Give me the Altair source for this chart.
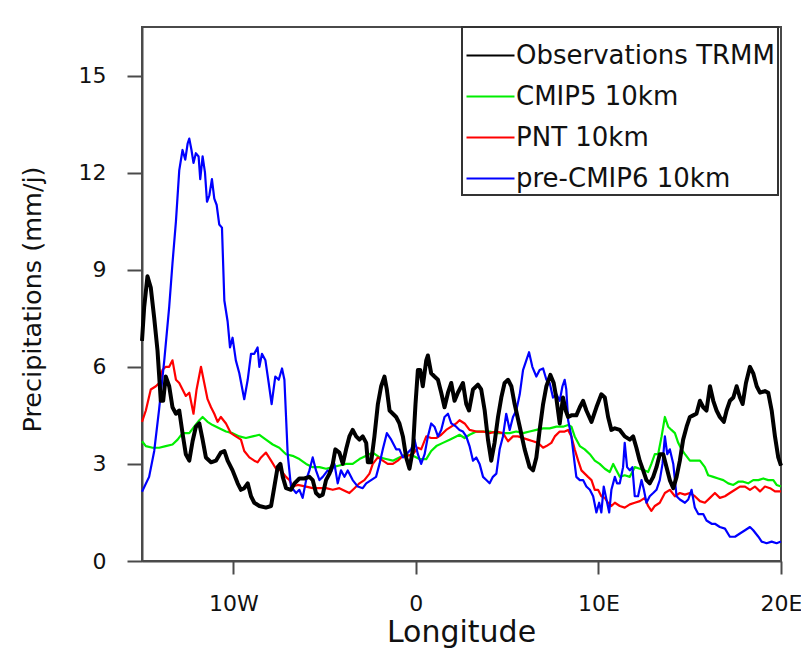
import altair as alt
import pandas as pd

series_names = ["Observations TRMM", "CMIP5 10km", "PNT 10km", "pre-CMIP6 10km"]
series_colors = ["#000000", "#00ee00", "#ff0000", "#0000ff"]

obs_lon = [-15.0, -14.88, -14.70, -14.52, -14.33, -14.15, -13.97, -13.84, -13.70, -13.51, -13.33, -13.14, -12.96,
           -12.78, -12.60, -12.41, -12.23, -12.05, -11.86, -11.68, -11.50, -11.22, -10.95, -10.68, -10.49, -10.31,
           -10.04, -9.76, -9.58, -9.40, -9.21, -9.03, -8.85, -8.57, -8.21, -7.93, -7.75, -7.57, -7.42, -7.29, -7.11,
           -6.84, -6.65,
           -6.38, -6.11, -5.83, -5.65, -5.47, -5.28, -5.10, -4.92, -4.73, -4.55, -4.41, -4.19, -4.00, -3.82, -3.64,
           -3.46, -3.27, -3.09, -2.91, -2.72, -2.63, -2.45, -2.27, -2.08, -1.90, -1.72, -1.59, -1.44, -1.26, -1.08,
           -0.90, -0.71, -0.53, -0.35, -0.16, -0.02, 0.11, 0.24, 0.38, 0.57, 0.66, 0.84, 1.02, 1.21, 1.39, 1.57,
           1.76, 1.94, 2.12, 2.30,
           2.58, 2.76, 2.91, 3.13, 3.40, 3.58, 3.77, 3.95, 4.13, 4.31, 4.50, 4.68, 4.86, 5.05, 5.23, 5.41, 5.69,
           5.96, 6.23, 6.42, 6.60, 6.78, 6.97, 7.15, 7.37, 7.55, 7.69, 7.88, 8.06, 8.21, 8.34, 8.52, 8.79, 8.98,
           9.16, 9.34, 9.62, 9.89, 10.16, 10.35, 10.53, 10.71, 10.90,
           11.17, 11.44, 11.72, 11.90, 12.08, 12.26, 12.45, 12.63, 12.81, 13.00, 13.18, 13.36, 13.55, 13.73, 13.91,
           14.10, 14.28, 14.46, 14.64, 14.83, 15.01, 15.19, 15.37, 15.56, 15.74, 15.92, 16.11, 16.29, 16.47, 16.65,
           16.87, 17.02, 17.20, 17.39, 17.57, 17.75, 17.90, 18.08, 18.30, 18.48, 18.67, 18.85, 19.12, 19.30, 19.49,
           19.67, 19.85, 20.0]
obs_val = [6.8, 7.85, 8.8, 8.45, 7.5, 6.5, 4.95, 4.95, 5.7, 5.4, 4.75, 4.55, 4.65,
           3.95, 3.3, 3.1, 3.7, 4.15, 4.25, 3.75, 3.2, 3.05, 3.1, 3.35, 3.4, 3.1,
           2.8, 2.4, 2.2, 2.25, 2.4, 2.0, 1.8, 1.7, 1.65, 1.7, 2.3, 2.9, 3.0, 2.6, 2.25,
           2.2, 2.4,
           2.55, 2.55, 2.6, 2.5, 2.1, 2.0, 2.05, 2.5, 2.7, 3.0, 3.45, 3.35, 3.0, 3.45, 3.85,
           4.05, 3.85, 3.75, 3.85, 3.65, 3.05, 3.05, 3.85, 4.85, 5.4, 5.7, 5.3, 4.65, 4.55, 4.45,
           4.25, 3.85, 3.2, 2.85, 3.45, 4.85, 5.9, 5.9, 5.4, 6.2, 6.35, 5.8, 5.7, 5.6, 5.2, 4.75,
           5.2, 5.5, 4.95, 5.2,
           5.5, 4.85, 4.65, 5.3, 5.45, 5.3, 4.65, 3.75, 3.1, 3.65, 4.45, 5.05, 5.5, 5.6, 5.4, 4.85, 4.15,
           3.45, 2.9, 2.8, 3.2, 4.05, 4.85, 5.4, 5.75, 5.5, 5.05, 4.25, 5.05, 4.65, 4.45, 4.5, 4.5, 4.75,
           4.95, 4.65, 4.3, 4.75, 5.15, 5.05, 4.45, 4.05, 4.1,
           4.05, 3.85, 3.75, 3.85, 3.5, 3.1, 2.8, 2.5, 2.4, 2.6, 2.9, 3.3, 3.3, 2.9, 2.5,
           2.25, 2.6, 3.1, 3.75, 4.15, 4.45, 4.5, 4.55, 4.95, 4.75, 4.65, 5.4, 4.95, 4.65, 4.45,
           4.3, 4.65, 4.95, 5.05, 5.4, 5.05, 4.85, 5.5, 6.0, 5.8, 5.4, 5.2, 5.25, 5.2, 4.65,
           3.85, 3.2, 2.95]

cmip5_lon = [-15.0, -14.79, -14.42, -14.06, -13.70, -13.33, -13.05, -12.78, -12.41, -12.14, -11.86, -11.68, -11.41,
             -11.13, -10.77, -10.40, -10.04, -9.67, -9.31, -8.94, -8.57, -8.21, -7.84, -7.48, -7.11, -6.75,
             -6.38, -6.01, -5.65, -5.28, -4.92, -4.55, -4.19, -3.82, -3.46, -3.09, -2.72, -2.36, -1.99, -1.63,
             -1.26, -0.90, -0.53, -0.16, 0.20, 0.57, 0.84, 1.12, 1.48, 1.85, 2.21,
             2.39, 2.67, 2.94, 3.31, 3.68, 4.04, 4.41, 4.77, 5.14, 5.50, 5.87, 6.23, 6.60, 6.97, 7.33, 7.70,
             8.06, 8.34, 8.52, 8.70, 8.98, 9.25, 9.53, 9.80, 10.07, 10.35, 10.62, 10.81, 10.99,
             11.17, 11.44, 11.72, 11.99, 12.27, 12.54, 12.72, 12.90, 13.09, 13.27, 13.46, 13.64, 13.82, 14.00,
             14.19, 14.37, 14.55, 14.74, 15.01, 15.28, 15.56, 15.83, 16.01, 16.29, 16.56, 16.84, 17.11, 17.39,
             17.66, 17.93, 18.20, 18.48, 18.76, 19.03, 19.30, 19.58, 19.76, 20.0]
cmip5_val = [3.7, 3.55, 3.5, 3.5, 3.55, 3.6, 3.75, 3.95, 3.95, 4.15, 4.35, 4.45, 4.3,
             4.2, 4.1, 4.0, 3.95, 3.85, 3.8, 3.85, 3.9, 3.75, 3.6, 3.5, 3.3, 3.25,
             3.15, 3.0, 2.9, 2.9, 2.85, 2.9, 2.95, 3.0, 3.0, 3.15, 3.25, 3.35, 3.2, 3.15,
             3.1, 3.2, 3.3, 3.25, 3.15, 3.15, 3.4, 3.55, 3.65, 3.75, 3.85,
             3.9, 3.8, 3.9, 4.0, 4.0, 4.0, 3.95, 3.95, 3.95, 4.0, 3.95, 4.0, 4.05, 4.1, 4.1, 4.15,
             4.15, 4.2, 4.15, 3.85, 3.55, 3.45, 3.3, 3.1, 3.0, 2.85, 2.75, 3.0, 2.8,
             2.6, 2.65, 2.6, 2.9, 2.85, 2.8, 2.75, 3.0, 3.3, 3.3, 3.85, 4.45, 4.15, 4.05,
             3.95, 3.65, 3.45, 3.3, 3.1, 3.1, 3.1, 2.9, 2.65, 2.6, 2.55, 2.5, 2.4, 2.35,
             2.45, 2.45, 2.4, 2.5, 2.5, 2.55, 2.5, 2.5, 2.35, 2.3]

pnt_lon = [-15.0, -14.79, -14.52, -14.24, -14.06, -13.88, -13.70, -13.51, -13.33, -13.14, -12.96, -12.78, -12.60,
           -12.41, -12.18, -12.01, -11.77, -11.59, -11.41, -11.22, -11.04, -10.86, -10.68, -10.40, -10.13, -9.86,
           -9.58, -9.40, -9.12, -8.85, -8.67, -8.48, -8.21, -7.93, -7.66, -7.39, -7.11, -6.93, -6.75, -6.47,
           -6.01, -5.65, -5.28, -4.92, -4.55, -4.19, -3.82, -3.64, -3.36, -3.09, -2.82, -2.54, -2.36, -2.08,
           -1.81, -1.54, -1.26, -0.99, -0.71, -0.44, -0.16, 0.11, 0.29, 0.57, 0.84, 1.12, 1.39, 1.66, 1.94, 2.21,
           2.39, 2.67, 2.94, 3.31, 3.68, 4.04, 4.41, 4.77, 5.05, 5.32, 5.59, 5.87, 6.14, 6.42, 6.69, 6.97, 7.15,
           7.42, 7.61, 7.88, 8.15, 8.34, 8.52, 8.70, 8.89, 9.07, 9.25, 9.43, 9.62, 9.80, 9.98, 10.16, 10.35,
           10.53, 10.71, 10.90,
           11.17, 11.44, 11.72, 11.99, 12.27, 12.54, 12.72, 12.90, 13.09, 13.36, 13.64, 13.91, 14.19, 14.46,
           14.74, 15.01, 15.28, 15.56, 15.83, 16.11, 16.38, 16.65, 16.93, 17.20, 17.48, 17.75, 18.03, 18.30,
           18.57, 18.85, 19.12, 19.40, 19.67, 20.0]
pnt_val = [4.3, 4.65, 5.3, 5.4, 5.5, 5.9, 6.0, 6.0, 6.2, 5.6, 5.5, 5.3, 5.1,
           5.2, 4.55, 5.3, 6.0, 5.5, 5.0, 4.75, 4.55, 4.3, 4.45, 4.25, 3.95, 3.85,
           3.75, 3.4, 3.2, 3.1, 3.05, 3.2, 3.35, 3.1, 2.85, 2.8, 2.6, 2.5, 2.3, 2.35,
           2.3, 2.25, 2.25, 2.25, 2.2, 2.25, 2.15, 2.1, 2.25, 2.4, 2.5, 2.7, 3.0, 3.2,
           3.1, 3.0, 3.0, 3.1, 3.25, 3.25, 3.3, 3.5, 3.45, 3.85, 3.8, 3.8, 3.9, 4.05, 4.15, 4.25,
           4.35, 4.25, 4.05, 4.0, 4.0, 3.95, 4.0, 3.95, 3.7, 3.85, 3.85, 3.8, 3.75, 3.7, 3.65, 3.5, 3.55,
           3.65, 3.85, 4.0, 4.0, 4.05, 3.85, 3.45, 3.1, 2.8, 2.7, 2.6, 2.5, 2.2, 2.2, 2.0, 1.95,
           1.8, 1.7, 1.8,
           1.7, 1.65, 1.75, 1.8, 1.85, 1.95, 1.7, 1.55, 1.7, 1.8, 2.1, 2.2, 2.0, 2.1,
           2.05, 2.1, 2.0, 1.85, 1.8, 1.95, 2.1, 1.95, 2.0, 2.1, 2.2, 2.3, 2.3, 2.2,
           2.3, 2.15, 2.3, 2.25, 2.15, 2.15]

pre6_lon = [-15.0, -14.61, -14.33, -14.06, -13.78, -13.51, -13.33, -13.14, -12.96, -12.78, -12.63, -12.50, -12.41,
            -12.29, -12.18, -12.05, -11.90, -11.81, -11.68, -11.55, -11.44, -11.31, -11.17, -11.04, -10.91, -10.77,
            -10.62, -10.49, -10.31, -10.18, -10.04, -9.86, -9.67, -9.40, -9.21, -9.03, -8.85, -8.67, -8.57, -8.43,
            -8.24, -8.06, -7.90, -7.70, -7.51, -7.33, -7.20, -7.02, -6.84, -6.56,
            -6.38, -6.20, -6.01, -5.83, -5.65, -5.47, -5.28, -5.10, -4.83, -4.64, -4.46, -4.28, -4.10, -3.91,
            -3.73, -3.46, -3.18, -2.91, -2.72, -2.45, -2.18, -1.99, -1.81, -1.59, -1.35, -1.08, -0.90, -0.71,
            -0.53, -0.26, -0.07, 0.11, 0.29, 0.48, 0.66, 0.84, 1.02, 1.21, 1.39, 1.57, 1.76, 1.94, 2.21,
            2.39, 2.58, 2.76, 2.94, 3.13, 3.31, 3.49, 3.68, 3.86, 4.04, 4.22, 4.41, 4.59, 4.77, 4.95, 5.14, 5.32,
            5.50, 5.69, 5.87, 6.05, 6.20, 6.38, 6.60, 6.78, 6.97, 7.15, 7.33, 7.51, 7.70, 7.88, 8.03, 8.15, 8.24,
            8.34, 8.52, 8.70, 8.79, 8.98, 9.16, 9.34, 9.53, 9.71, 9.89, 10.04, 10.16, 10.29, 10.44, 10.59, 10.71,
            10.90, 11.02,
            11.17, 11.35, 11.44, 11.57, 11.72, 11.86, 11.99, 12.17, 12.36, 12.49, 12.63, 12.81, 13.00, 13.18,
            13.36, 13.51, 13.64, 13.77, 13.91, 14.10, 14.28, 14.46, 14.74, 14.92, 15.10, 15.28, 15.47, 15.74,
            15.92, 16.20, 16.38, 16.65, 16.93, 17.20, 17.48, 17.75, 18.03, 18.30, 18.48, 18.76, 18.94, 19.21,
            19.49, 19.76, 20.0]
pre6_val = [2.14, 2.6, 3.4, 4.7, 6.2, 7.85, 9.2, 10.5, 12.07, 12.7, 12.4, 12.9, 13.05,
            12.7, 12.3, 12.6, 12.5, 11.8, 12.5, 12.0, 11.1, 11.3, 11.8, 11.2, 11.0, 10.4,
            10.3, 8.05, 7.4, 6.6, 6.9, 6.2, 5.8, 5.0, 5.6, 6.4, 6.4, 6.6, 6.0, 6.4,
            6.2, 5.5, 4.85, 5.7, 5.6, 5.95, 5.6, 3.3, 2.3, 2.1,
            2.2, 1.95, 2.5, 2.8, 3.2, 2.8, 2.5, 2.6, 2.8, 2.75, 3.0, 2.4, 2.8, 2.6,
            2.8, 2.5, 2.3, 2.25, 2.4, 2.5, 2.6, 3.0, 3.45, 3.95, 3.75, 3.45, 3.45, 3.2,
            3.3, 3.45, 3.75, 3.3, 3.0, 3.3, 3.85, 4.25, 4.15, 3.85, 4.05, 4.45, 4.55, 4.25, 4.15,
            4.05, 4.0, 3.85, 3.55, 3.1, 3.2, 3.0, 2.6, 2.5, 2.4, 2.6, 2.7, 3.45, 3.85, 4.55, 4.05, 4.45,
            4.65, 5.15, 5.9, 6.2, 6.45, 6.0, 5.7, 5.9, 5.95, 5.6, 5.5, 5.05, 5.15, 4.95, 5.4, 5.6, 5.3,
            4.35, 3.85, 3.0, 2.6, 2.5, 2.5, 2.3, 2.2, 2.0, 1.5, 1.8, 1.5, 2.3, 1.9, 1.5, 2.2,
            2.6, 2.4,
            2.4, 2.9, 3.65, 2.9, 2.8, 2.9, 2.0, 2.0, 2.5, 2.2, 1.8, 2.0, 2.1, 2.2,
            2.5, 3.0, 3.85, 3.3, 3.45, 3.0, 2.0, 1.9, 1.8, 1.9, 2.2, 1.65, 1.45, 1.45,
            1.25, 1.15, 1.15, 1.05, 1.0, 0.75, 0.75, 0.85, 0.95, 1.05, 0.95, 0.75, 0.6, 0.55,
            0.6, 0.55, 0.6]

x_tick_values = [-10, 0, 10, 20]
x_tick_labels = ["10W", "0", "10E", "20E"]
y_tick_values = [0, 3, 6, 9, 12, 15]

rows = []
for name, lons, vals in zip(series_names,
                            [obs_lon, cmip5_lon, pnt_lon, pre6_lon],
                            [obs_val, cmip5_val, pnt_val, pre6_val]):
    for lo, va in zip(lons, vals):
        rows.append({"series": name, "lon": lo, "val": va})
df = pd.DataFrame(rows)

label_expr = "''"
for v, lab in reversed(list(zip(x_tick_values, x_tick_labels))):
    label_expr = f"datum.value == {v} ? '{lab}' : ({label_expr})"

FONT = "DejaVu Sans"
AX = "#4a4a4a"
TXT = "#111111"
W, H = 639, 534

xs = alt.Scale(domain=[-15, 20], nice=False, zero=False)
ys = alt.Scale(domain=[0, 16.5], nice=False, zero=False)

base = alt.Chart(df)

lines = base.mark_line(strokeJoin="round", strokeWidth=2.2).encode(
    x=alt.X("lon:Q", scale=xs, axis=alt.Axis(
        orient="bottom", values=x_tick_values, labelExpr=label_expr, grid=False,
        tickSize=13, tickWidth=2, tickColor=AX, domainWidth=2, domainColor=AX,
        labelFont=FONT, labelFontSize=22, labelPadding=19, labelBaseline="top", labelColor=TXT,
        labelFlush=False, labelOverlap=False,
        title="Longitude", titleFont=FONT, titleFontSize=30, titleFontWeight="normal", titleColor=TXT,
        titleX=319, titleY=80, titleBaseline="alphabetic", titleAlign="center")),
    y=alt.Y("val:Q", scale=ys, axis=alt.Axis(
        orient="left", values=y_tick_values, format="d", grid=False,
        tickSize=15, tickWidth=2, tickColor=AX, domainWidth=2, domainColor=AX,
        labelFont=FONT, labelFontSize=22, labelPadding=21, labelColor=TXT,
        labelFlush=False, labelOverlap=False,
        title="Precipitations (mm/j)", titleFont=FONT, titleFontSize=25.5, titleFontWeight="normal",
        titleColor=TXT, titleAngle=270, titleX=-110, titleY=272, titleBaseline="middle", titleAlign="center")),
    color=alt.Color("series:N", scale=alt.Scale(domain=series_names, range=series_colors),
                    legend=alt.Legend(orient="none", legendX=320, legendY=0, title=None,
                                      symbolType="stroke", symbolSize=2304, symbolStrokeWidth=2.2,
                                      labelFont=FONT, labelFontSize=26, labelOffset=0, labelLimit=600,
                                      labelColor=TXT, rowPadding=2, padding=3,
                                      strokeColor="#333333", fillColor="white")),
)

obs_top = base.transform_filter(alt.datum.series == series_names[0]).mark_line(
    color=series_colors[0], strokeWidth=4, strokeJoin="round").encode(
    x=alt.X("lon:Q", scale=xs, axis=None),
    y=alt.Y("val:Q", scale=ys, axis=None),
)

chart = alt.layer(lines, obs_top).resolve_axis(
    x="independent", y="independent"
).properties(
    width=W, height=H,
    autosize=alt.AutoSizeParams(type="none"),
    padding={"left": 134, "top": 19, "right": 20, "bottom": 89},
).configure_view(stroke=AX, strokeWidth=2).configure_legend(strokeWidth=2)

chart.save("out.html", embed_options={"renderer": "svg", "actions": False})
